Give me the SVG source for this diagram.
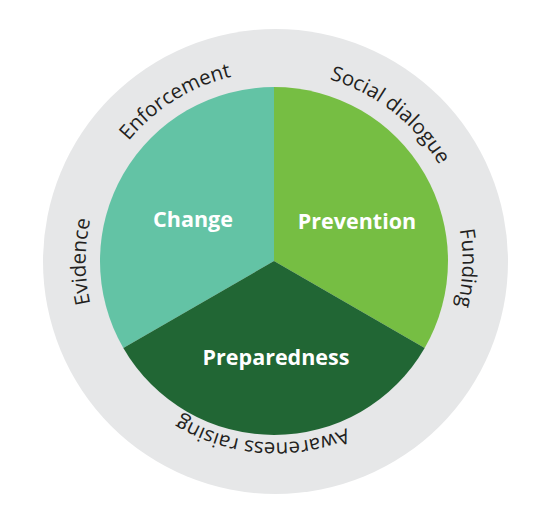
<svg xmlns="http://www.w3.org/2000/svg" width="551" height="511" viewBox="0 0 551 511">
  <style>
    .ring { font-family: "Open Sans", "Liberation Sans", sans-serif; font-size: 20.5px; fill: #231f20; }
    .lbl { font-family: "Open Sans", "Liberation Sans", sans-serif; font-size: 21.5px; font-weight: bold; fill: #ffffff; text-anchor: middle; }
  </style>
  <defs>
    <path id="pEvidence" d="M180.5,426 A190,190 0 0 1 180.5,97"/>
    <path id="pEnforcement" d="M85.62,268.13 A190,190 0 0 1 364.7,93.74"/>
    <path id="pSocial" d="M204.32,85.34 A190,190 0 0 1 463.65,287.94"/>
    <path id="pFunding" d="M374.59,102.91 A187,187 0 0 1 363.29,426.61"/>
    <path id="pAwareness" d="M425.02,363.5 A181,181 0 0 1 112.39,339.99"/>
  </defs>
  <rect width="551" height="511" fill="#ffffff"/>
  <g id="ring">
    <circle cx="275.5" cy="261.5" r="232.5" fill="#e6e7e8"/>
  </g>
  <g id="change">
    <path d="M274,261 L274,87 A174,174 0 0 0 123.31,348 Z" fill="#63c3a5"/>
    <text class="lbl" x="193" y="226.5">Change</text>
  </g>
  <g id="prevention">
    <path d="M274,261 L274,87 A174,174 0 0 1 424.69,348 Z" fill="#76be43"/>
    <text class="lbl" x="357" y="228.5">Prevention</text>
  </g>
  <g id="preparedness">
    <path d="M274,261 L424.69,348 A174,174 0 0 1 123.31,348 Z" fill="#216634"/>
    <text class="lbl" x="276" y="364.5">Preparedness</text>
  </g>
  <g id="evidence">
    <text class="ring"><textPath href="#pEvidence" startOffset="50%" text-anchor="middle">Evidence</textPath></text>
  </g>
  <g id="enforcement">
    <text class="ring"><textPath href="#pEnforcement" startOffset="50%" text-anchor="middle">Enforcement</textPath></text>
  </g>
  <g id="social-dialogue">
    <text class="ring"><textPath href="#pSocial" startOffset="50%" text-anchor="middle">Social dialogue</textPath></text>
  </g>
  <g id="funding">
    <text class="ring"><textPath href="#pFunding" startOffset="50%" text-anchor="middle">Funding</textPath></text>
  </g>
  <g id="awareness-raising">
    <text class="ring"><textPath href="#pAwareness" startOffset="50%" text-anchor="middle">Awareness raising</textPath></text>
  </g>
  <g id="connectors"/>
</svg>
